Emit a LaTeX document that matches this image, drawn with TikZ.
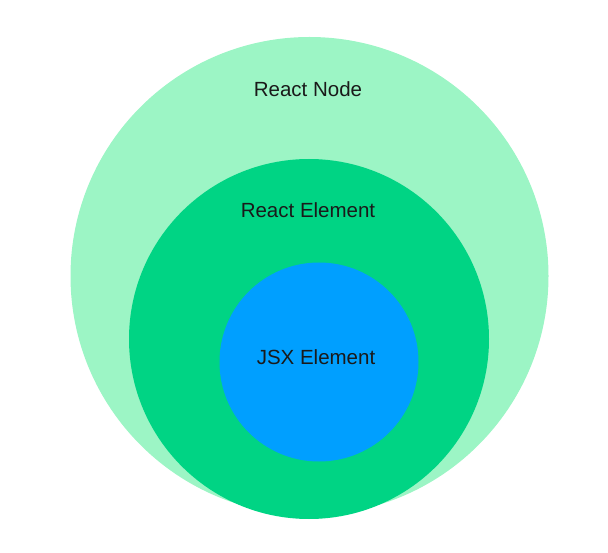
\documentclass[tikz,border=0pt]{standalone}
\usepackage{fontspec}
\setmainfont{Liberation Sans}
\usepackage{tikz}
\usetikzlibrary{positioning}

\definecolor{nodegreen}{HTML}{9CF5C5}
\definecolor{elemgreen}{HTML}{00D484}
\definecolor{jsxblue}{HTML}{009FFF}
\definecolor{labelink}{HTML}{1A1A1A}

\tikzset{
  label text/.style={text=labelink, anchor=base, inner sep=0pt,
    font=\fontsize{20.5}{24}\selectfont}
}

\begin{document}
\begin{tikzpicture}[x=1pt, y=-1pt]
        \useasboundingbox (0, 0) rectangle (608, 553);

        \fill[nodegreen] (309.5, 276) circle (239pt);
        \fill[elemgreen] (309, 339) circle (180pt);
        \fill[jsxblue] (319, 362) circle (99.5pt);

        \node[label text] (RN) at (308, 97) {React Node};
        \node[label text] (RE) at (308, 218) {React Element};
        \node[label text] (JSX) at (316, 365) {JSX Element};
      \end{tikzpicture}
\end{document}
